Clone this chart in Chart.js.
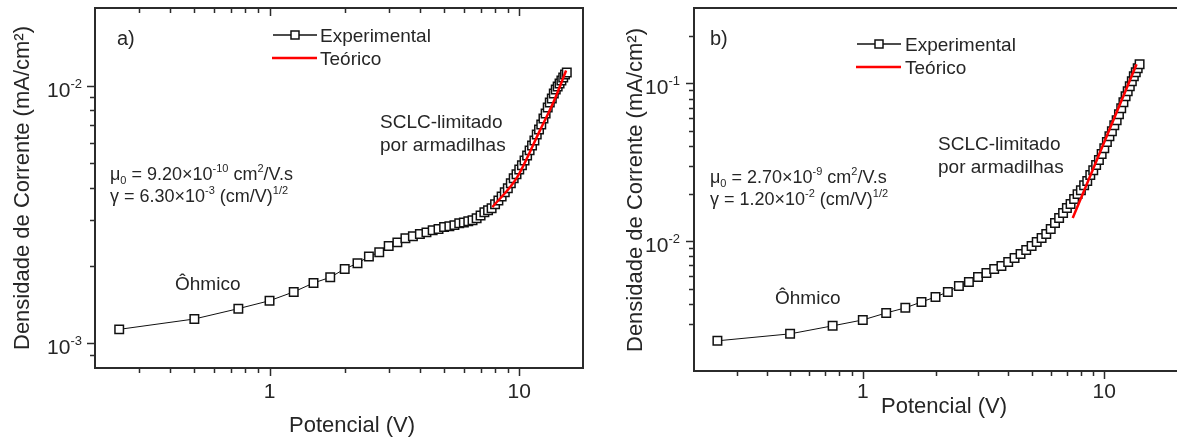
<!DOCTYPE html>
<html>
<head>
<meta charset="utf-8">
<script src="https://cdn.jsdelivr.net/npm/chart.js@4.4.0/dist/chart.umd.min.js"></script>
<style>
  html, body { margin: 0; padding: 0; background: #fff; }
  #wrap { position: relative; width: 1177px; height: 438px; overflow: hidden; }
  .panel { position: absolute; top: 0; }
  #panelA { left: 0; }
  #panelB { left: 590px; }
</style>
</head>
<body>
<div id="wrap">
  <div class="panel" id="panelA"><canvas id="chartA" width="590" height="438"></canvas></div>
  <div class="panel" id="panelB"><canvas id="chartB" width="587" height="438"></canvas></div>
</div>
<script>
// ---- data ----
const voltsA = [0.25,0.5,0.75,1,1.25,1.5,1.75,2,2.25,2.5,2.75,3,3.25,3.5,3.75,4,4.25,4.5,4.75,5,
  5.25,5.5,5.75,6,6.25,6.5,6.75,7,7.25,7.5,7.75,8,8.25,8.5,8.75,9,9.25,9.5,9.75,10,
  10.25,10.5,10.75,11,11.25,11.5,11.75,12,12.25,12.5,12.75,13,13.25,13.5,13.75,14,14.25,14.5,14.75,15,
  15.25,15.5];
const currentA = [1.13e-3,1.24e-3,1.36e-3,1.46e-3,1.58e-3,1.71e-3,1.80e-3,1.94e-3,2.04e-3,2.17e-3,
  2.25e-3,2.38e-3,2.46e-3,2.55e-3,2.60e-3,2.65e-3,2.69e-3,2.74e-3,2.77e-3,2.82e-3,
  2.84e-3,2.87e-3,2.92e-3,2.94e-3,2.97e-3,3.00e-3,3.05e-3,3.13e-3,3.22e-3,3.28e-3,
  3.34e-3,3.46e-3,3.58e-3,3.71e-3,3.85e-3,3.99e-3,4.17e-3,4.36e-3,4.52e-3,4.72e-3,
  4.90e-3,5.12e-3,5.35e-3,5.60e-3,5.85e-3,6.12e-3,6.45e-3,6.75e-3,7.06e-3,7.45e-3,
  7.79e-3,8.22e-3,8.59e-3,8.91e-3,9.31e-3,9.65e-3,9.91e-3,1.019e-2,1.045e-2,1.074e-2,
  1.104e-2,1.123e-2];
const voltsTheoA = [7.8, 9.8, 12.0, 13.8, 15.4];
const currentTheoA = [3.37e-3, 4.40e-3, 6.58e-3, 8.75e-3, 1.143e-2];

const voltsB = [0.25,0.5,0.75,1,1.25,1.5,1.75,2,2.25,2.5,2.75,3,3.25,3.5,3.75,4,4.25,4.5,4.75,5,
  5.25,5.5,5.75,6,6.25,6.5,6.75,7,7.25,7.5,7.75,8,8.25,8.5,8.75,9,9.25,9.5,9.75,10,
  10.25,10.5,10.75,11,11.25,11.5,11.75,12,12.25,12.5,12.75,13,13.25,13.5,13.75,14];
const currentB = [2.33e-3,2.58e-3,2.90e-3,3.16e-3,3.50e-3,3.77e-3,4.11e-3,4.42e-3,4.76e-3,5.19e-3,
  5.50e-3,5.92e-3,6.27e-3,6.65e-3,6.95e-3,7.36e-3,7.80e-3,8.28e-3,8.77e-3,9.30e-3,
  9.86e-3,1.045e-2,1.107e-2,1.191e-2,1.300e-2,1.400e-2,1.503e-2,1.618e-2,1.714e-2,1.845e-2,
  1.983e-2,2.10e-2,2.26e-2,2.40e-2,2.62e-2,2.81e-2,3.03e-2,3.26e-2,3.56e-2,3.88e-2,
  4.24e-2,4.62e-2,4.97e-2,5.42e-2,5.83e-2,6.37e-2,6.95e-2,7.58e-2,8.28e-2,8.89e-2,
  9.57e-2,0.1030,0.1107,0.1175,0.1245,0.1318];
const voltsTheoB = [7.4, 10.0, 13.6];
const currentTheoB = [1.40e-2, 4.24e-2, 0.132];

const xTickLabels = [1, 10];
const yPowersA = [-3, -2];
const yPowersB = [-2, -1];

const FONT = '"Liberation Sans", Arial, sans-serif';
const INK = '#262626';
const AXIS = '#2b2b2b';

// draws text made of plain / sup / sub pieces
function drawRich(ctx, parts, x, y, size, align) {
  let w = 0;
  const segs = parts.map(p => {
    const [t, k] = typeof p === 'string' ? [p, ''] : p;
    const s = k ? Math.round(size * 0.62) : size;
    ctx.font = s + 'px ' + FONT;
    const sw = ctx.measureText(t).width;
    w += sw;
    return { t, k, s, sw };
  });
  let cx = align === 'right' ? x - w : align === 'center' ? x - w / 2 : x;
  ctx.textAlign = 'left';
  ctx.textBaseline = 'alphabetic';
  segs.forEach(g => {
    ctx.font = g.s + 'px ' + FONT;
    const dy = g.k === 'sup' ? -size * 0.42 : g.k === 'sub' ? size * 0.2 : 0;
    ctx.fillText(g.t, cx, y + dy);
    cx += g.sw;
  });
}

function mantissa(v) {
  return v / Math.pow(10, Math.floor(Math.log10(v) + 1e-9));
}

const decor = {
  id: 'decor',
  afterDraw(chart, args, o) {
    const ctx = chart.ctx, a = chart.chartArea;
    const xs = chart.scales.x, ys = chart.scales.y;
    ctx.save();

    // ticks
    ctx.strokeStyle = AXIS;
    ctx.lineWidth = 1.5;
    ctx.beginPath();
    xs.ticks.forEach(t => {
      const m = mantissa(t.value);
      if (Math.abs(m - Math.round(m)) > 1e-6) return;
      const px = Math.round(xs.getPixelForValue(t.value)) + 0.5;
      if (px < a.left + 1 || px > a.right - 1) return;
      const len = Math.round(m) === 1 ? 8 : 5;
      ctx.moveTo(px, a.bottom); ctx.lineTo(px, a.bottom + len);
      if (o.topTicks) { ctx.moveTo(px, a.top); ctx.lineTo(px, a.top + len); }
    });
    ys.ticks.forEach(t => {
      const m = mantissa(t.value);
      if (Math.abs(m - Math.round(m)) > 1e-6) return;
      const py = Math.round(ys.getPixelForValue(t.value)) + 0.5;
      if (py < a.top + 1 || py > a.bottom - 1) return;
      const len = Math.round(m) === 1 ? 8 : 5;
      ctx.moveTo(a.left, py); ctx.lineTo(a.left - len, py);
    });
    ctx.stroke();

    // frame (panel b is cut off on the right, so no right edge there)
    ctx.lineWidth = 2;
    ctx.beginPath();
    ctx.moveTo(a.right + 1, a.top); ctx.lineTo(a.left, a.top);
    ctx.lineTo(a.left, a.bottom); ctx.lineTo(a.right + 1, a.bottom);
    if (o.rightEdge) { ctx.moveTo(a.right, a.top); ctx.lineTo(a.right, a.bottom); }
    ctx.stroke();

    // tick labels
    ctx.fillStyle = INK;
    xTickLabels.forEach(v => {
      drawRich(ctx, [String(v)], xs.getPixelForValue(v), o.xLabelBase, 21, 'center');
    });
    o.yPowers.forEach(p => {
      const py = ys.getPixelForValue(Math.pow(10, p));
      drawRich(ctx, ['10', [String(p), 'sup']], a.left - o.yLabelGap, py + 11, 21, 'right');
    });

    // axis titles
    drawRich(ctx, ['Potencial (V)'], o.xTitle[0], o.xTitle[1], 22, 'center');
    ctx.save();
    ctx.translate(o.yTitle[0], o.yTitle[1]);
    ctx.rotate(-Math.PI / 2);
    ctx.font = '22px ' + FONT;
    ctx.textAlign = 'center';
    ctx.textBaseline = 'middle';
    ctx.fillText('Densidade de Corrente (mA/cm\u00B2)', 0, 0);
    ctx.restore();

    // legend, drawn from the dataset styles
    const [exp, theo] = chart.data.datasets;
    const L = o.legend;
    ctx.strokeStyle = exp.borderColor;
    ctx.lineWidth = 1.5;
    ctx.beginPath();
    ctx.moveTo(L.x0, L.y1); ctx.lineTo(L.x1, L.y1);
    ctx.stroke();
    const sq = 8, cx = (L.x0 + L.x1) / 2;
    ctx.fillStyle = '#fff';
    ctx.fillRect(cx - sq / 2, L.y1 - sq / 2, sq, sq);
    ctx.strokeRect(cx - sq / 2, L.y1 - sq / 2, sq, sq);
    ctx.strokeStyle = theo.borderColor;
    ctx.lineWidth = 2.5;
    ctx.beginPath();
    ctx.moveTo(L.x0 - 1, L.y2); ctx.lineTo(L.x1, L.y2);
    ctx.stroke();
    ctx.fillStyle = INK;
    drawRich(ctx, [exp.label], L.tx, L.y1 + 7, 19, 'left');
    drawRich(ctx, [theo.label], L.tx, L.y2 + 7, 19, 'left');

    // notes
    o.notes.forEach(n => drawRich(ctx, n.parts, n.x, n.y, n.size || 19, 'left'));
    ctx.restore();
  }
};

function makePanel(id, cfg) {
  const pts = (xs, ys) => xs.map((v, i) => ({ x: v, y: ys[i] }));
  return new Chart(document.getElementById(id), {
    type: 'scatter',
    data: {
      datasets: [
        {
          label: 'Experimental',
          data: pts(cfg.volts, cfg.current),
          showLine: true,
          borderColor: '#111',
          borderWidth: 1,
          pointStyle: 'rect',
          pointRadius: 6,
          pointBorderWidth: 1.5,
          pointBorderColor: '#111',
          pointBackgroundColor: '#fff',
          order: 2
        },
        {
          label: 'Teórico',
          data: pts(cfg.voltsTheo, cfg.currentTheo),
          showLine: true,
          borderColor: '#ff0000',
          borderWidth: 2.5,
          pointRadius: 0,
          cubicInterpolationMode: 'monotone',
          order: 1
        }
      ]
    },
    options: {
      responsive: false,
      animation: false,
      devicePixelRatio: 1,
      layout: { padding: cfg.padding, autoPadding: false },
      scales: {
        x: { type: 'logarithmic', min: cfg.xRange[0], max: cfg.xRange[1], display: false,
             ticks: { autoSkip: false } },
        y: { type: 'logarithmic', min: cfg.yRange[0], max: cfg.yRange[1], display: false,
             ticks: { autoSkip: false } }
      },
      plugins: {
        legend: { display: false },
        tooltip: { enabled: false },
        decor: cfg.decor
      }
    },
    plugins: [decor]
  });
}

// panel a
makePanel('chartA', {
  volts: voltsA, current: currentA, voltsTheo: voltsTheoA, currentTheo: currentTheoA,
  xRange: [0.2, 18], yRange: [8e-4, 2e-2],
  padding: { left: 95, top: 8, right: 7, bottom: 70 },
  decor: {
    topTicks: true, rightEdge: true,
    yPowers: yPowersA, yLabelGap: 13, xLabelBase: 398,
    xTitle: [352, 432], yTitle: [23, 188],
    legend: { x0: 273, x1: 317, y1: 35, y2: 58, tx: 320 },
    notes: [
      { parts: ['a)'], x: 117, y: 45, size: 20 },
      { parts: ['SCLC-limitado'], x: 380, y: 128 },
      { parts: ['por armadilhas'], x: 380, y: 151 },
      { parts: ['\u03BC', ['0', 'sub'], ' = 9.20\u00D710', ['-10', 'sup'], ' cm', ['2', 'sup'], '/V.s'], x: 110, y: 180, size: 18 },
      { parts: ['\u03B3 = 6.30\u00D710', ['-3', 'sup'], ' (cm/V)', ['1/2', 'sup']], x: 110, y: 202, size: 18 },
      { parts: ['\u00D4hmico'], x: 175, y: 290 }
    ]
  }
});

// panel b (canvas starts at x = 590)
makePanel('chartB', {
  volts: voltsB, current: currentB, voltsTheo: voltsTheoB, currentTheo: currentTheoB,
  xRange: [0.2, 20], yRange: [1.5e-3, 0.3],
  padding: { left: 104, top: 8, right: 0, bottom: 67 },
  decor: {
    topTicks: false, rightEdge: false,
    yPowers: yPowersB, yLabelGap: 14, xLabelBase: 398,
    xTitle: [354, 413], yTitle: [46, 190],
    legend: { x0: 267, x1: 311, y1: 44, y2: 67, tx: 315 },
    notes: [
      { parts: ['b)'], x: 120, y: 45, size: 20 },
      { parts: ['SCLC-limitado'], x: 348, y: 150 },
      { parts: ['por armadilhas'], x: 348, y: 173 },
      { parts: ['\u03BC', ['0', 'sub'], ' = 2.70\u00D710', ['-9', 'sup'], ' cm', ['2', 'sup'], '/V.s'], x: 120, y: 183, size: 18 },
      { parts: ['\u03B3 = 1.20\u00D710', ['-2', 'sup'], ' (cm/V)', ['1/2', 'sup']], x: 120, y: 205, size: 18 },
      { parts: ['\u00D4hmico'], x: 185, y: 304 }
    ]
  }
});
</script>
</body>
</html>
